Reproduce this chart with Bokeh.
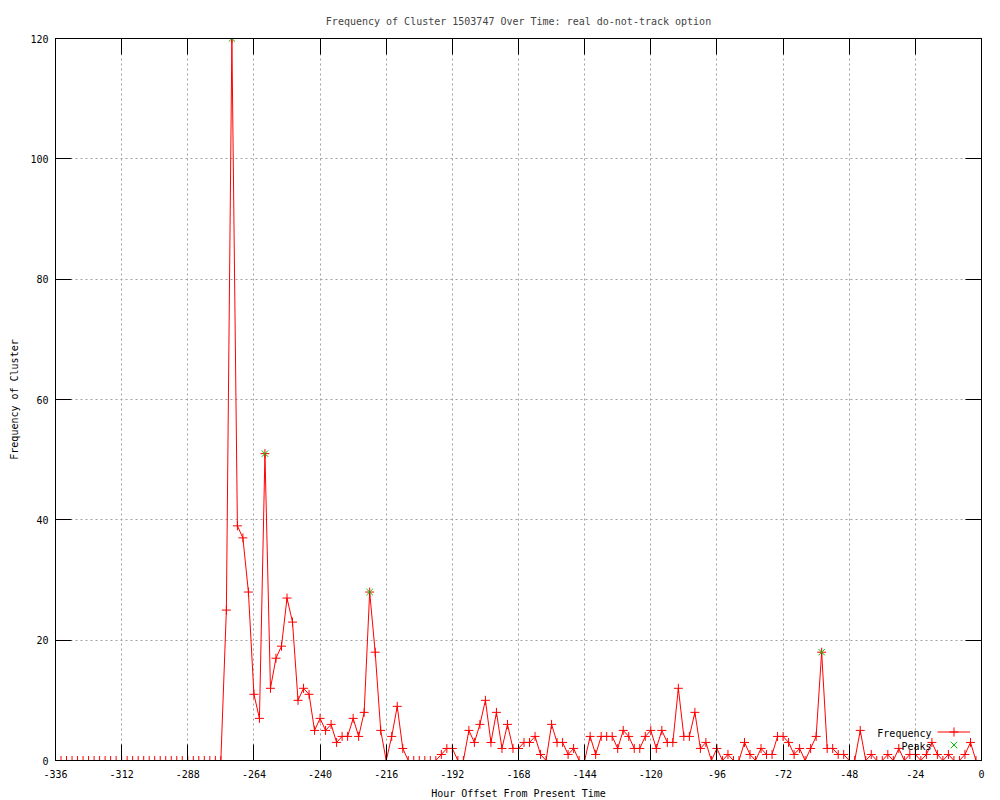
from bokeh.plotting import figure
from bokeh.models import (Range1d, FixedTicker, LinearAxis, Label, Legend,
                          LegendItem, ColumnDataSource)
from bokeh.embed import file_html
from bokeh.resources import INLINE

TITLE = "Frequency of Cluster 1503747 Over Time: real do-not-track option"
X_LABEL = "Hour Offset From Present Time"
Y_LABEL = "Frequency of Cluster"

# hour offsets (every 2 hours) and observed frequency
hours = list(range(-336, 0, 2))
freq = [
    0, 0, 0, 0, 0, 0, 0, 0, 0, 0, 0, 0, 0, 0, 0, 0,          # -336 .. -306
    0, 0, 0, 0, 0, 0, 0, 0, 0, 0, 0, 0, 0, 0, 0,             # -304 .. -276
    25, 120, 39, 37, 28, 11, 7, 51, 12, 17, 19, 27, 23, 10,  # -274 .. -248
    12, 11, 5, 7, 5, 6, 3, 4, 4, 7, 4, 8, 28, 18, 5, 0,      # -246 .. -216
    4, 9, 2, 0, 0, 0, 0, 0, 0, 1, 2, 2, 0, 0,                # -214 .. -188
    5, 3, 6, 10, 3, 8, 2, 6, 2, 2, 3, 3, 4, 1, 0,            # -186 .. -158
    6, 3, 3, 1, 2, 0, 0, 4, 1, 4, 4, 4, 2, 5, 4,             # -156 .. -128
    2, 2, 4, 5, 2, 5, 3, 3, 12, 4, 4, 8, 2, 3, 0,            # -126 .. -98
    2, 0, 1, 0, 0, 3, 1, 0, 2, 1, 1, 4, 4, 3, 1,             # -96 .. -68
    2, 0, 2, 4, 18, 2, 2, 1, 1, 0, 0, 5, 0, 1, 0,            # -66 .. -38
    0, 1, 0, 2, 0, 1, 1, 0, 1, 3, 1, 0, 1, 0, 0,             # -36 .. -8
    1, 3, 0,                                                 # -6 .. -2
]

peak_hours = [-272, -260, -222, -58]
peak_values = [120, 51, 28, 18]

x_ticks = [-336, -312, -288, -264, -240, -216, -192, -168, -144, -120, -96, -72, -48, -24, 0]
x_tick_labels = ["-336", "-312", "-288", "-264", "-240", "-216", "-192", "-168",
                 "-144", "-120", "-96", "-72", "-48", "-24", "0"]
y_ticks = [0, 20, 40, 60, 80, 100, 120]
y_tick_labels = ["0", "20", "40", "60", "80", "100", "120"]

FONT = "DejaVu Sans Mono"
FS = "10px"

p = figure(frame_width=926, frame_height=722,
           x_range=Range1d(-336, 0), y_range=Range1d(0, 120),
           output_backend="svg", toolbar_location=None,
           min_border_left=55, min_border_right=9,
           min_border_top=38, min_border_bottom=38,
           title=TITLE)

p.background_fill_color = "white"
p.border_fill_color = "white"
p.outline_line_color = "black"
p.outline_line_width = 1
p.outline_line_alpha = 1.0

p.title.text_font = FONT
p.title.text_font_size = FS
p.title.text_font_style = "normal"
p.title.align = "center"
p.title.standoff = 24

xt = FixedTicker(ticks=x_ticks, minor_ticks=[])
yt = FixedTicker(ticks=y_ticks, minor_ticks=[])

xa = p.xaxis[0]
xa.ticker = xt
xa.major_label_overrides = {t: l for t, l in zip(x_ticks, x_tick_labels)}
ya = p.yaxis[0]
ya.ticker = yt
ya.major_label_overrides = {t: l for t, l in zip(y_ticks, y_tick_labels)}

for ax in (xa, ya):
    ax.major_tick_in = 16
    ax.major_tick_out = 0
    ax.minor_tick_in = 0
    ax.minor_tick_out = 0
    ax.axis_line_color = "black"
    ax.major_tick_line_color = "black"
    ax.major_label_text_font = FONT
    ax.major_label_text_font_size = FS
    ax.major_label_text_color = "black"
    ax.axis_label_text_font = FONT
    ax.axis_label_text_font_size = FS
    ax.axis_label_text_font_style = "normal"
    ax.axis_label_text_color = "black"

xa.axis_label = X_LABEL
xa.major_label_standoff = 9
xa.axis_label_standoff = 7
ya.axis_label = Y_LABEL
ya.major_label_standoff = 7
ya.axis_label_standoff = 7

# mirrored ticks on top and right (gnuplot style frame)
top = LinearAxis(ticker=FixedTicker(ticks=x_ticks, minor_ticks=[]),
                 major_label_overrides={t: "" for t in x_ticks})
right = LinearAxis(ticker=FixedTicker(ticks=y_ticks, minor_ticks=[]),
                   major_label_overrides={t: "" for t in y_ticks})
for ax in (top, right):
    ax.major_tick_in = 16
    ax.major_tick_out = 0
    ax.minor_tick_in = 0
    ax.minor_tick_out = 0
    ax.major_label_text_font_size = "0px"
    ax.major_label_standoff = 0
    ax.axis_line_color = "black"
p.add_layout(top, "above")
p.add_layout(right, "right")

p.xgrid.ticker = xt
p.ygrid.ticker = yt
for g in (p.xgrid, p.ygrid):
    g.grid_line_color = "#a0a0a0"
    g.grid_line_dash = "2 3"
    g.grid_line_width = 1

src = ColumnDataSource(dict(hour=hours, freq=freq))
line_r = p.line("hour", "freq", source=src, line_color="red", line_width=1)
pts_r = p.scatter("hour", "freq", source=src, marker="cross", size=9,
                  line_color="red", line_width=1)
peak_src = ColumnDataSource(dict(hour=peak_hours, freq=peak_values))
peak_r = p.scatter("hour", "freq", source=peak_src, marker="x", size=9,
                   line_color="#00c000", line_width=1)

# gnuplot-style key: right-aligned text, sample on the right
def key_sample(renderers, loc):
    return Legend(items=[LegendItem(label=" ", renderers=renderers)],
                  location=loc, glyph_width=33, glyph_height=23,
                  label_width=0, label_height=23, label_standoff=0,
                  padding=0, margin=0, spacing=0,
                  border_line_color=None, background_fill_alpha=0,
                  label_text_font_size=FS)

p.add_layout(key_sample([line_r, pts_r], (882, 17)))
p.add_layout(key_sample([peak_r], (882, 4)))

for txt, yy in (("Frequency", 27), ("Peaks", 14)):
    p.add_layout(Label(x=876, y=yy, x_units="screen", y_units="screen",
                       text=txt, text_align="right", text_baseline="middle",
                       text_font=FONT, text_font_size=FS, text_color="black"))

open("out.html", "w").write(file_html(p, INLINE))
